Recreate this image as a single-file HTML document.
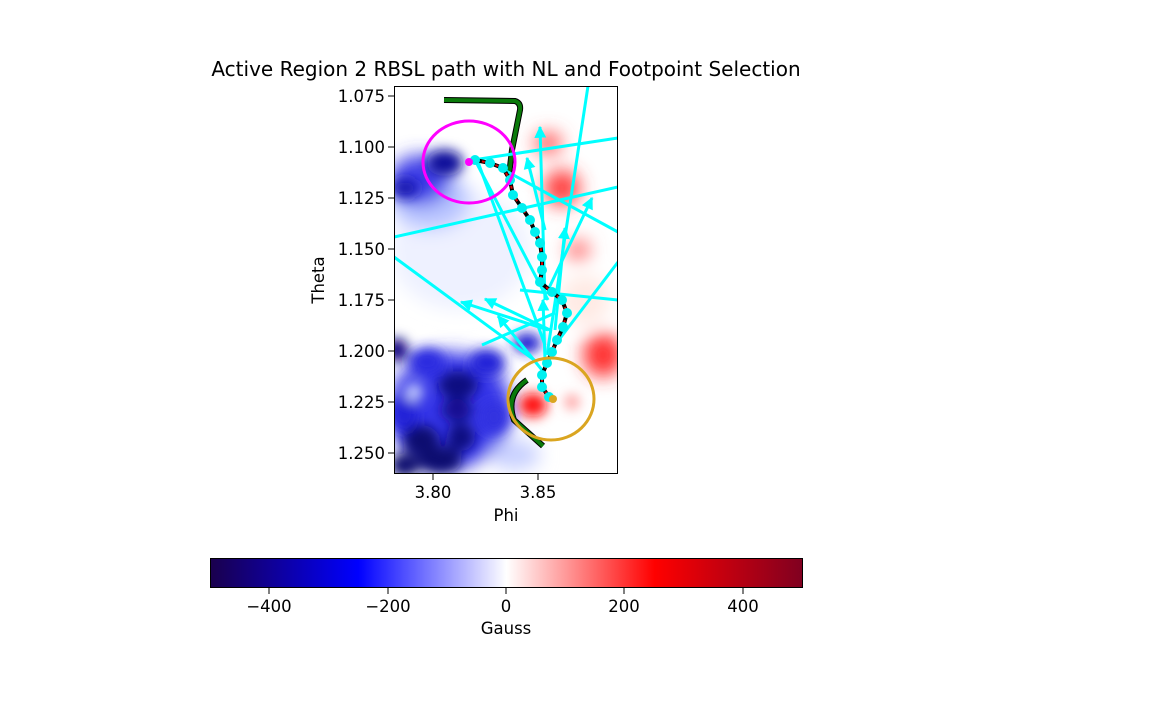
<!DOCTYPE html>
<html><head><meta charset="utf-8"><style>
body{margin:0;background:#fff}
svg text{font-family:"DejaVu Sans","Liberation Sans",sans-serif;font-size:16.5px;fill:#000}
</style></head><body>
<svg width="1152" height="720" xmlns="http://www.w3.org/2000/svg">
<defs>
<clipPath id="c"><rect x="394" y="86" width="224" height="388"/></clipPath>
<filter id="b" x="-50%" y="-50%" width="200%" height="200%"><feGaussianBlur stdDeviation="9"/></filter>
<filter id="b2" x="-50%" y="-50%" width="200%" height="200%"><feGaussianBlur stdDeviation="6"/></filter>
<linearGradient id="cb" x1="0" x2="1" y1="0" y2="0">
<stop offset="0" stop-color="#1a004d"/><stop offset="0.25" stop-color="#0000ff"/><stop offset="0.5" stop-color="#ffffff"/><stop offset="0.75" stop-color="#ff0000"/><stop offset="1" stop-color="#800020"/>
</linearGradient>
<marker id="ar" viewBox="0 0 10 10" refX="9" refY="5" markerWidth="4" markerHeight="4" orient="auto"><path d="M0,0L10,5L0,10z" fill="#00ffff"/></marker>
</defs>
<text x="506" y="76" text-anchor="middle" style="font-size:20px">Active Region 2 RBSL path with NL and Footpoint Selection</text>
<g clip-path="url(#c)">
<rect x="394" y="86" width="224" height="388" fill="#fff"/>
<g filter="url(#b)">
<ellipse cx="460" cy="250" rx="70" ry="60" fill="#eef1ff"/>
<ellipse cx="430" cy="200" rx="40" ry="30" fill="#b8c4ff"/>
<ellipse cx="420" cy="180" rx="30" ry="25" fill="#4040e8"/>
<ellipse cx="548" cy="143" rx="14" ry="11" fill="#ff5a5a"/>
<ellipse cx="562" cy="188" rx="18" ry="18" fill="#ff4040"/>
<ellipse cx="578" cy="250" rx="12" ry="10" fill="#ff7070"/>
<ellipse cx="603" cy="355" rx="20" ry="22" fill="#ff3030"/>
<ellipse cx="585" cy="300" rx="25" ry="25" fill="#ffeae4"/>
<ellipse cx="450" cy="410" rx="62" ry="58" fill="#3535e8"/>
<ellipse cx="515" cy="455" rx="25" ry="15" fill="#c8d0ff"/>
</g>
<g filter="url(#b2)">
<ellipse cx="445" cy="163" rx="18" ry="13" fill="#10109a"/>
<ellipse cx="405" cy="188" rx="14" ry="10" fill="#1818b0"/>
<ellipse cx="527" cy="343" rx="14" ry="10" fill="#2020d0"/>
<ellipse cx="427" cy="362" rx="18" ry="14" fill="#2a2ae0"/>
<ellipse cx="487" cy="363" rx="18" ry="14" fill="#2020d8"/>
<ellipse cx="404" cy="413" rx="14" ry="18" fill="#2020d8"/>
<ellipse cx="494" cy="417" rx="14" ry="16" fill="#3030e0"/>
<ellipse cx="414" cy="392" rx="9" ry="9" fill="#c8d0ff"/>
<ellipse cx="397" cy="350" rx="11" ry="12" fill="#100080"/>
<ellipse cx="458" cy="385" rx="20" ry="14" fill="#0c0a80"/>
<ellipse cx="457" cy="410" rx="16" ry="12" fill="#120c90"/>
<ellipse cx="421" cy="440" rx="18" ry="15" fill="#0c0870"/>
<ellipse cx="461" cy="437" rx="14" ry="14" fill="#0c0a80"/>
<ellipse cx="440" cy="460" rx="22" ry="14" fill="#0a0870"/>
<ellipse cx="405" cy="465" rx="15" ry="12" fill="#0a0870"/>
<ellipse cx="533" cy="405" rx="14" ry="12" fill="#ff0808"/>
<ellipse cx="572" cy="402" rx="7" ry="7" fill="#ff9090"/>
</g>
<path d="M444,100 L515,101 Q521,103 520,110 L512,150 L509,175" stroke="#000" stroke-width="6" fill="none"/>
<path d="M444,100 L515,101 Q521,103 520,110 L512,150 L509,175" stroke="#0a7a0a" stroke-width="4" fill="none"/>
<path d="M527,380 Q505,395 514,420 L543,446" stroke="#000" stroke-width="6" fill="none"/>
<path d="M527,380 Q505,395 514,420 L543,446" stroke="#0a7a0a" stroke-width="4" fill="none"/>
<g stroke="#00ffff" stroke-width="3" fill="none">
<line x1="473" y1="160" x2="618" y2="138"/>
<line x1="394" y1="237" x2="618" y2="187"/>
<line x1="394" y1="257" x2="537" y2="362"/>
<line x1="588" y1="86" x2="547" y2="355"/>
<line x1="618" y1="262" x2="555" y2="345"/>
<line x1="482" y1="345" x2="555" y2="313"/>
<line x1="520" y1="290" x2="618" y2="300"/>
<line x1="495" y1="165" x2="618" y2="232"/>
<line x1="475" y1="160" x2="548" y2="300"/>
<line x1="478" y1="162" x2="545" y2="345"/>
<line x1="545" y1="300" x2="540" y2="127" marker-end="url(#ar)"/>
<line x1="545" y1="230" x2="527" y2="158" marker-end="url(#ar)"/>
<line x1="548" y1="290" x2="592" y2="198" marker-end="url(#ar)"/>
<line x1="555" y1="330" x2="565" y2="228" marker-end="url(#ar)"/>
<line x1="548" y1="330" x2="461" y2="302" marker-end="url(#ar)"/>
<line x1="550" y1="330" x2="485" y2="299" marker-end="url(#ar)"/>
<line x1="542" y1="370" x2="498" y2="316" marker-end="url(#ar)"/>
<line x1="545" y1="360" x2="543" y2="300" marker-end="url(#ar)"/>
</g>
<polyline points="475,160 490,163 503,168 510,180 513,195 522,208 530,220 535,232 540,243 542,257 542,270 540,282 552,292 562,300 567,313 563,327 557,340 552,352 547,363 542,375 542,387 549,397" stroke="#000" stroke-width="4" fill="none"/>
<polyline points="475,160 490,163 503,168 510,180 513,195 522,208 530,220 535,232 540,243 542,257 542,270 540,282 552,292 562,300 567,313 563,327 557,340 552,352 547,363 542,375 542,387 549,397" stroke="#e00000" stroke-width="2" stroke-dasharray="3,4" fill="none"/>
<g fill="#00f0f0">
<circle cx="475" cy="160" r="5"/><circle cx="490" cy="163" r="5"/><circle cx="503" cy="168" r="5"/><circle cx="510" cy="180" r="5"/><circle cx="513" cy="195" r="5"/><circle cx="522" cy="208" r="5"/><circle cx="530" cy="220" r="5"/><circle cx="535" cy="232" r="5"/><circle cx="540" cy="243" r="5"/><circle cx="542" cy="257" r="5"/><circle cx="542" cy="270" r="5"/><circle cx="540" cy="282" r="5"/><circle cx="552" cy="292" r="5"/><circle cx="562" cy="300" r="5"/><circle cx="567" cy="313" r="5"/><circle cx="563" cy="327" r="5"/><circle cx="557" cy="340" r="5"/><circle cx="552" cy="352" r="5"/><circle cx="547" cy="363" r="5"/><circle cx="542" cy="375" r="5"/><circle cx="542" cy="387" r="5"/><circle cx="549" cy="397" r="5"/>
</g>
<circle cx="469" cy="162" r="4" fill="#ff00ff"/>
<circle cx="553" cy="399" r="4" fill="#daa520"/>
<ellipse cx="469" cy="162" rx="46" ry="41" stroke="#ff00ff" stroke-width="3" fill="none"/>
<ellipse cx="551" cy="399" rx="43" ry="41" stroke="#daa520" stroke-width="3" fill="none"/>
</g>
<rect x="394.5" y="86.5" width="223" height="387" fill="none" stroke="#000" stroke-width="1"/>
<g stroke="#000">
<line x1="433" y1="474" x2="433" y2="480"/><line x1="538" y1="474" x2="538" y2="480"/>
<line x1="388" y1="96" x2="394" y2="96"/><line x1="388" y1="147" x2="394" y2="147"/><line x1="388" y1="198" x2="394" y2="198"/><line x1="388" y1="249" x2="394" y2="249"/><line x1="388" y1="300" x2="394" y2="300"/><line x1="388" y1="351" x2="394" y2="351"/><line x1="388" y1="402" x2="394" y2="402"/><line x1="388" y1="453" x2="394" y2="453"/>
</g>
<g text-anchor="end">
<text x="385" y="102">1.075</text><text x="385" y="153">1.100</text><text x="385" y="204">1.125</text><text x="385" y="255">1.150</text><text x="385" y="306">1.175</text><text x="385" y="357">1.200</text><text x="385" y="408">1.225</text><text x="385" y="459">1.250</text>
</g>
<text x="433" y="498" text-anchor="middle">3.80</text><text x="538" y="498" text-anchor="middle">3.85</text>
<text x="506" y="521" text-anchor="middle">Phi</text>
<text x="324" y="280" text-anchor="middle" transform="rotate(-90 324 280)">Theta</text>
<rect x="210.5" y="558.5" width="592" height="29" fill="url(#cb)" stroke="#000" stroke-width="1"/>
<g stroke="#000"><line x1="269" y1="588" x2="269" y2="594"/><line x1="388" y1="588" x2="388" y2="594"/><line x1="506" y1="588" x2="506" y2="594"/><line x1="624" y1="588" x2="624" y2="594"/><line x1="743" y1="588" x2="743" y2="594"/></g>
<g text-anchor="middle"><text x="269" y="612">−400</text><text x="388" y="612">−200</text><text x="506" y="612">0</text><text x="624" y="612">200</text><text x="743" y="612">400</text></g>
<text x="506" y="634" text-anchor="middle">Gauss</text>
</svg>
</body></html>
